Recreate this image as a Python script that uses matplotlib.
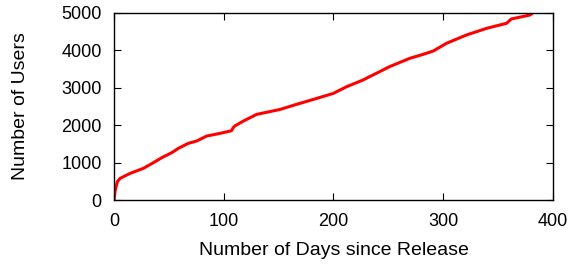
import matplotlib
matplotlib.use("Agg")
import matplotlib.pyplot as plt

days = [0, 1, 3, 5.5, 14.6, 26.7, 35.8, 43.4, 52.5, 58.6, 67.7, 75.3, 84.4, 96.6, 107, 108.5,
        110, 117.8, 130, 151, 166, 181.6, 199.8, 212, 227, 233, 242, 251, 269.7, 281.8, 291,
        303, 321, 339.6, 357.8, 362, 379, 381]
users = [0, 250, 490, 580, 713, 847, 998, 1131, 1265, 1382, 1516, 1578, 1711, 1783, 1853, 1930,
         1979, 2110, 2290, 2420, 2555, 2690, 2850, 3030, 3210, 3300, 3430, 3565, 3790, 3895, 3985,
         4190, 4410, 4590, 4725, 4840, 4945, 4990]

plt.rcParams['font.family'] = ['Liberation Sans', 'DejaVu Sans']
fig = plt.figure(figsize=(5.73, 2.65), dpi=100)
ax = fig.add_axes([0.199, 0.245, 0.766, 0.706])
ax.plot(days, users, color='#ff0000', lw=2.2, clip_on=True)
ax.set_xlim(0, 400)
ax.set_ylim(0, 5000)
ax.set_xticks([0, 100, 200, 300, 400])
ax.set_yticks([0, 1000, 2000, 3000, 4000, 5000])
ax.tick_params(direction='in', top=True, right=True, length=5, width=0.8, labelsize=13, pad=9)
for s in ax.spines.values():
    s.set_linewidth(1.0)
ax.set_xlabel('Number of Days since Release', fontsize=14, labelpad=9)
ax.set_ylabel('Number of Users', fontsize=14, labelpad=23)
fig.savefig('out.png', dpi=100)
